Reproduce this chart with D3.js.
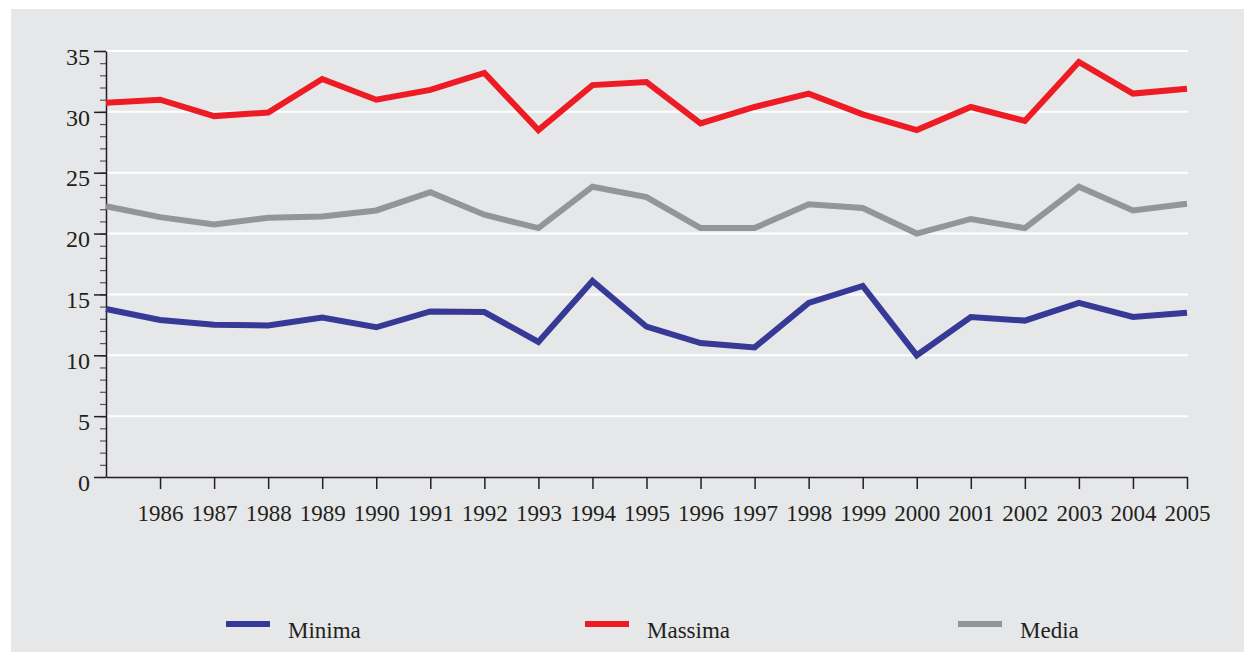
<!DOCTYPE html>
<html>
<head>
  <meta charset="utf-8">
  <title>Temperature 1985-2005</title>
  <style>
    body { margin: 0; background: #fff; }
    svg { display: block; }
  </style>
</head>
<body>
  <svg width="1244" height="652"></svg>

  <script src="https://d3js.org/d3.v7.min.js"></script>
  <script>
    var years = [1985, 1986, 1987, 1988, 1989, 1990, 1991, 1992, 1993, 1994, 1995,
                 1996, 1997, 1998, 1999, 2000, 2001, 2002, 2003, 2004, 2005];
    var minima = [13.8, 12.9, 12.5, 12.45, 13.1, 12.3, 13.6, 13.55, 11.1, 16.1, 12.35,
                  11.0, 10.65, 14.3, 15.7, 10.0, 13.15, 12.85, 14.3, 13.15, 13.5];
    var massima = [30.75, 31.0, 29.65, 29.95, 32.7, 31.0, 31.8, 33.2, 28.5, 32.2, 32.45,
                   29.05, 30.4, 31.5, 29.8, 28.5, 30.4, 29.25, 34.1, 31.5, 31.9];
    var media = [22.25, 21.35, 20.75, 21.3, 21.4, 21.9, 23.4, 21.55, 20.45, 23.85, 23.0,
                 20.45, 20.45, 22.4, 22.1, 20.0, 21.2, 20.45, 23.85, 21.9, 22.45];
    var seriesNames = ['Minima', 'Massima', 'Media'];
    var yTicks = [0, 5, 10, 15, 20, 25, 30, 35];

    var colors = { Minima: '#363996', Massima: '#ed1c24', Media: '#939598' };
    var values = { Minima: minima, Massima: massima, Media: media };
    var serif = '"Liberation Serif", "DejaVu Serif", serif';

    var svg = d3.select('svg');

    // grey panel
    svg.append('rect')
      .attr('x', 11).attr('y', 9)
      .attr('width', 1233).attr('height', 643)
      .attr('fill', '#e6e7e8');

    var plotLeft = 106, plotRight = 1187, plotTop = 51, plotBottom = 477;

    var x = d3.scaleLinear().domain([1985, 2005]).range([plotLeft, plotRight]);
    var y = d3.scaleLinear().domain([0, 35]).range([plotBottom, plotTop]);

    // white gridlines
    svg.append('g')
      .selectAll('line')
      .data(yTicks.filter(function(d) { return d > 0; }))
      .join('line')
      .attr('x1', plotLeft).attr('x2', plotRight + 1)
      .attr('y1', function(d) { return y(d); })
      .attr('y2', function(d) { return y(d); })
      .attr('stroke', '#fff')
      .attr('stroke-width', 2);

    // minor ticks on y axis
    svg.append('g')
      .attr('transform', 'translate(' + plotLeft + ',0)')
      .call(d3.axisLeft(y).ticks(35).tickSize(6).tickFormat(''))
      .call(function(g) { g.select('.domain').remove(); })
      .selectAll('line').attr('stroke', '#555').attr('stroke-width', 1.2);

    // major ticks + labels
    var yAxis = svg.append('g')
      .attr('transform', 'translate(' + plotLeft + ',0)')
      .call(d3.axisLeft(y).tickValues(yTicks).tickSize(12).tickSizeOuter(0).tickPadding(4));
    yAxis.select('.domain').attr('stroke', '#231f20').attr('stroke-width', 1.5);
    yAxis.selectAll('line').attr('stroke', '#231f20').attr('stroke-width', 1.5);
    yAxis.selectAll('text')
      .attr('font-family', serif).attr('font-size', 24)
      .attr('fill', '#231f20').attr('dy', '0.55em');

    var xAxis = svg.append('g')
      .attr('transform', 'translate(0,' + plotBottom + ')')
      .call(d3.axisBottom(x).tickValues(years.slice(1)).tickFormat(d3.format('d'))
        .tickSize(12).tickSizeOuter(0).tickPadding(16));
    xAxis.select('.domain').attr('stroke', '#231f20').attr('stroke-width', 1.5);
    xAxis.selectAll('line').attr('stroke', '#231f20').attr('stroke-width', 1.5);
    xAxis.selectAll('text')
      .attr('font-family', serif).attr('font-size', 23).attr('fill', '#231f20');

    var line = d3.line()
      .x(function(d, i) { return x(years[i]); })
      .y(function(d) { return y(d); });

    svg.append('g')
      .selectAll('path')
      .data(['Media', 'Minima', 'Massima'])
      .join('path')
      .attr('d', function(s) { return line(values[s]); })
      .attr('fill', 'none')
      .attr('stroke', function(s) { return colors[s]; })
      .attr('stroke-width', 6)
      .attr('stroke-linejoin', 'miter');

    // legend
    var legendX = [226, 585, 958];
    var legend = svg.append('g')
      .selectAll('g')
      .data(seriesNames)
      .join('g')
      .attr('transform', function(d, i) { return 'translate(' + legendX[i] + ',624)'; });
    legend.append('line')
      .attr('x1', 0).attr('x2', 44)
      .attr('stroke', function(d) { return colors[d]; })
      .attr('stroke-width', 6);
    legend.append('text')
      .attr('x', 62).attr('y', 14)
      .attr('font-family', serif).attr('font-size', 23).attr('fill', '#231f20')
      .text(function(d) { return d; });
  </script>
</body>
</html>
